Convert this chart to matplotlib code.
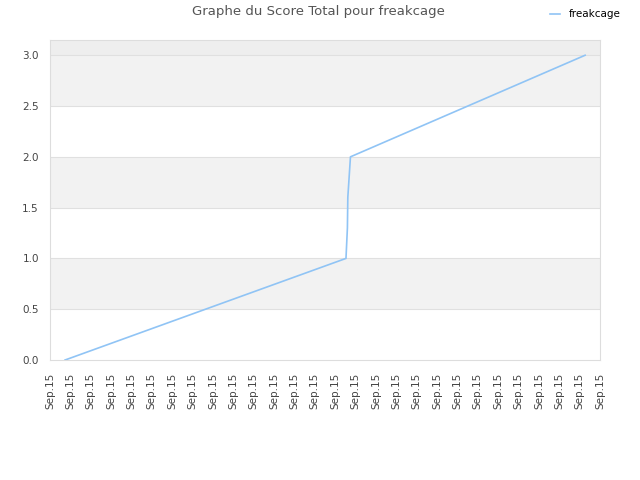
import matplotlib
matplotlib.use("Agg")
import matplotlib.pyplot as plt

tick_labels = ["Sep.15"] * 28
x_vals = [0.74, 14.53, 14.6, 14.62, 14.75, 26.27]
scores = [0.0, 1.0, 1.3, 1.6, 2.0, 3.0]

fig = plt.figure(figsize=(6.4, 4.8), dpi=100)
ax = fig.add_axes([50/640, 1-360/480, 550/640, 320/480])

ymax = 3.15
bands = [(0.5, 1.0), (1.5, 2.0), (2.5, 3.0)]
for lo, hi in bands:
    ax.axhspan(lo, hi, color="#f2f2f2", zorder=0, lw=0)
ax.axhspan(3.0, ymax, color="#eeeeee", zorder=0, lw=0)
for yv in [0.5, 1.0, 1.5, 2.0, 2.5, 3.0]:
    ax.axhline(yv, color="#e0e0e0", lw=0.8, zorder=1)

ax.plot(x_vals, scores, color="#90c4f5", lw=1.2, label="freakcage", zorder=3)

ax.set_xlim(0, len(tick_labels) - 1)
ax.set_ylim(0, ymax)
ax.set_xticks(range(len(tick_labels)))
ax.set_xticklabels(tick_labels, rotation=90, fontsize=7.5, color="#444444")
ax.set_yticks([0.0, 0.5, 1.0, 1.5, 2.0, 2.5, 3.0])
ax.set_yticklabels(["0.0", "0.5", "1.0", "1.5", "2.0", "2.5", "3.0"], fontsize=7.5, color="#444444")
ax.tick_params(axis="x", length=0, pad=9)
ax.tick_params(axis="y", length=0, pad=8)
for s in ax.spines.values():
    s.set_color("#dddddd")
    s.set_linewidth(0.8)

fig.text(0.497, 1-12/480, "Graphe du Score Total pour freakcage", ha="center", va="center",
         fontsize=9.5, color="#555555")
fig.legend(loc="upper right", bbox_to_anchor=(0.984, 1.0), frameon=False, fontsize=7.5,
           handlelength=1.0, handletextpad=0.8)

fig.savefig("out.png", dpi=100, facecolor="white")
